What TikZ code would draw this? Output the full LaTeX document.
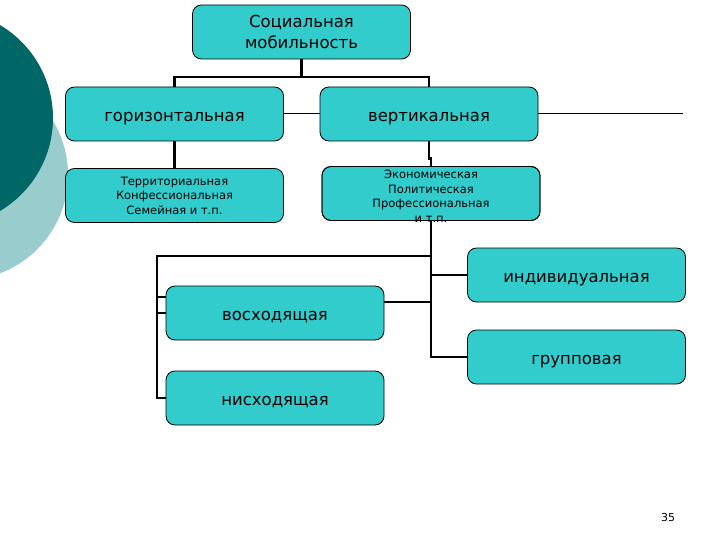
\documentclass[tikz,border=0pt]{standalone}
\usepackage{fontspec}
\setmainfont{DejaVu Sans}
\usepackage{xcolor}
\definecolor{boxFill}{HTML}{33CCCC}
\definecolor{circDark}{HTML}{006666}
\definecolor{circLight}{HTML}{99CCCC}
\tikzset{
  box/.style={rectangle, rounded corners=9pt, draw=black, line width=0.8pt, fill=boxFill,
    minimum width=218pt, minimum height=54pt, inner sep=0pt, align=center,
    font=\fontsize{16.5}{21}\selectfont},
  word box/.style={box, text height=15pt, text depth=0pt},
  small box/.style={box, font=\fontsize{11.5}{14.5}\selectfont},
  link/.style={line width=2.4pt},
  thin link/.style={line width=1pt}
}

\begin{document}
\begin{tikzpicture}[x=1pt, y=-1pt]
  \filldraw[fill=white, draw=none] (0,0) rectangle (720,540);
  \begin{scope}
    \clip (0,0) rectangle (720,540);
    \fill[circLight] (-37,175) circle (105);
    \fill[circDark] (-55,118) circle (108);
  \end{scope}
  \node[box, text depth=0pt] (soc) at (301.5,32) {Социальная\\мобильность};
  \node[word box] (hor) at (174.5,114) {горизонтальная};
  \node[word box] (ver) at (429,114) {вертикальная};
  \node[small box] (terr) at (174.5,195.5) {Территориальная\\Конфессиональная\\Семейная и т.п.};
  \node[small box] (econ) at (431,193.5) {};
  \node[font=\fontsize{11.5}{14.5}\selectfont, align=center] (econtext) at (431,196) {Экономическая\\Политическая\\Профессиональная\\и т.п.};
  \node[word box] (indiv) at (576.5,275) {индивидуальная};
  \node[word box] (up) at (275,313) {восходящая};
  \node[word box] (group) at (576.5,357) {групповая};
  \node[word box] (down) at (275,398) {нисходящая};
  \node[font=\fontsize{11}{13}\selectfont] (page) at (668,517) {35};
  \coordinate (top bus) at (301.5,77);
  \coordinate (left bus) at (157,256);
  \coordinate (ver end) at (683,114);
  \draw[link] (soc) -- (top bus);
  \draw[link] (hor.north) |- (top bus) -| (ver.north);
  \draw[thin link] (hor.east) -- (ver.west);
  \draw[thin link] (ver.east) -- (ver end);
  \draw[link] (hor) -- (terr);
  \draw[link] (ver.south) -- ++(0,17) -| (econ.north);
  \draw[link] (econ.south) |- (group.west);
  \draw[link] (indiv.west -| econ.south) -- (indiv.west);
  \draw[link] ([yshift=11pt]up.east) -- ([yshift=11pt]up.east -| econ.south);
  \draw[link] (left bus -| econ.south) -- (left bus) |- (down.west);
  \draw[link] (left bus |- up.west) -- (up.west);
  \draw[link] ([yshift=16pt]up.west -| left bus) -- ([yshift=16pt]up.west);
  \node[small box, fill=none] at (econ) {};
\end{tikzpicture}
\end{document}
